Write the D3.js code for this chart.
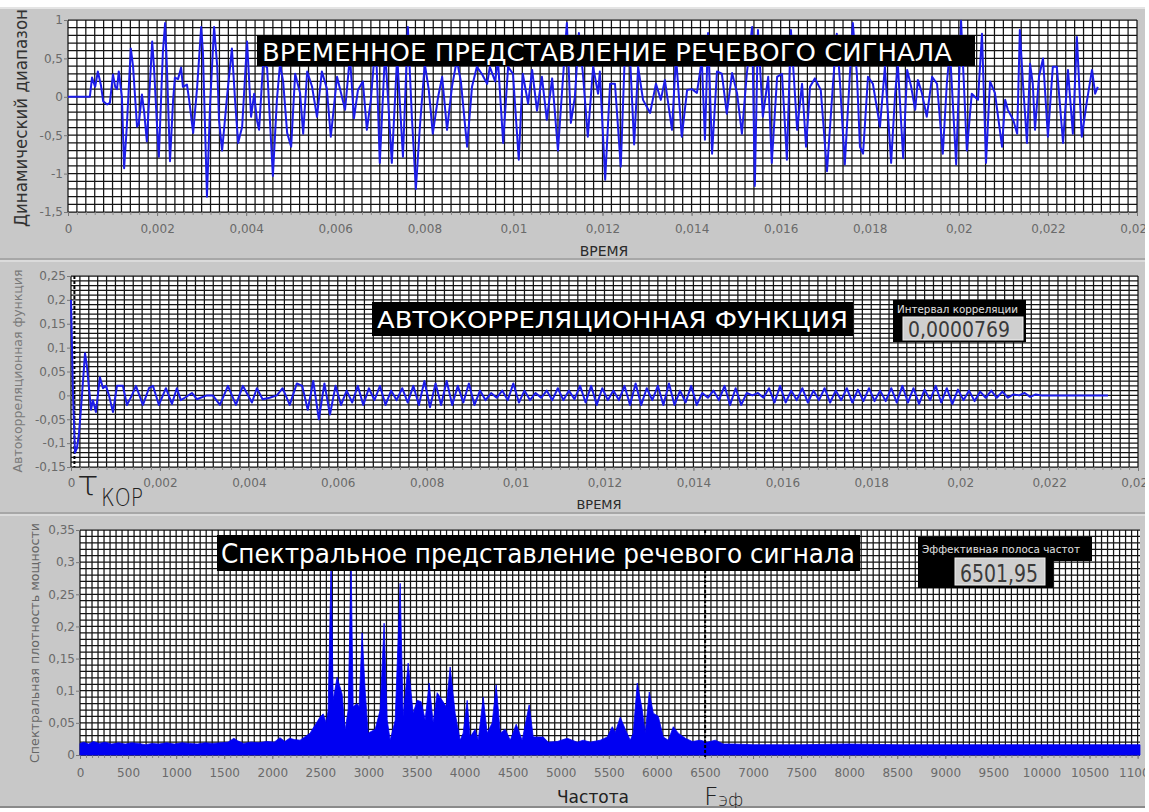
<!DOCTYPE html>
<html><head><meta charset="utf-8">
<script src="https://cdn.jsdelivr.net/npm/d3@7"></script>
<style>body{margin:0;background:#fff;} svg{display:block}</style>
</head><body><svg id="c" width="1149" height="812"></svg>
<script>
// ---------- DATA ----------
// Time signal (time in ms, amplitude)
const sigT = [0,0.49,0.54,0.61,0.67,0.74,0.79,0.88,0.94,1.01,
1.06,1.10,1.14,1.21,1.26,1.32,1.41,1.46,1.55,1.59,
1.66,1.71,1.77,1.89,1.93,2.00,2.04,2.13,2.18,2.22,
2.29,2.36,2.40,2.47,2.54,2.58,2.67,2.72,2.81,2.90,
2.99,3.03,3.12,3.19,3.28,3.35,3.39,3.46,3.57,3.68,
3.75,3.82,3.91,4.02,4.11,4.18,4.24,4.29,4.38,4.47,
4.60,4.69,4.76,4.83,4.92,5.01,5.10,5.21,5.28,5.37,
5.48,5.59,5.70,5.81,5.90,6.04,6.15,6.22,6.33,6.42,
6.51,6.62,6.71,6.80,6.91,7.00,7.12,7.27,7.39,7.52,
7.63,7.72,7.81,7.90,8.01,8.10,8.19,8.31,8.40,8.51,
8.62,8.73,8.82,8.96,9.07,9.18,9.29,9.41,9.47,9.59,
9.65,9.77,9.88,9.99,10.12,10.21,10.33,10.42,10.53,10.64,
10.75,10.87,11.00,11.11,11.20,11.29,11.38,11.47,11.56,11.67,
11.79,11.90,11.94,12.06,12.17,12.28,12.41,12.50,12.62,12.71,
12.80,12.91,13.07,13.20,13.31,13.40,13.56,13.65,13.78,13.90,
14.01,14.12,14.23,14.30,14.37,14.46,14.57,14.68,14.79,14.91,
15.02,15.13,15.24,15.36,15.42,15.49,15.60,15.72,15.80,15.92,
16.03,16.14,16.23,16.37,16.48,16.57,16.66,16.77,16.90,17.04,
17.17,17.26,17.33,17.44,17.56,17.62,17.71,17.78,17.85,17.96,
18.07,18.23,18.34,18.48,18.57,18.63,18.75,18.84,18.93,19.02,
19.08,19.17,19.28,19.40,19.51,19.64,19.73,19.80,19.94,20.05,
20.18,20.29,20.43,20.52,20.61,20.70,20.81,20.97,21.04,21.10,
21.22,21.31,21.37,21.44,21.53,21.60,21.66,21.71,21.80,21.89,
22.00,22.11,22.20,22.34,22.45,22.56,22.65,22.76,22.88,22.99,
23.06,23.12];
const sigV = [0,0,0.25,0.13,0.33,0.15,-0.06,-0.1,-0.08,0.29,
0.13,0.1,0.33,0,-0.93,-0.39,0.63,0.4,-0.39,-0.35,
0.03,-0.2,-0.58,0.72,0.39,-0.39,-0.78,0.58,0.96,0.4,
-0.84,-0.04,0.25,0.23,0.38,0.13,0.16,-0.04,-0.47,0.13,
0.91,0.57,-1.3,-0.1,0.91,0.4,-0.3,-0.7,0,0.63,
-0.04,-0.6,-0.39,0.72,-0.26,0.04,-0.3,-0.43,0.43,0.38,
-1.03,-0.04,0.43,0.2,-0.47,-0.65,0.3,0.05,-0.48,0.33,
0.13,-0.26,0.33,0.11,-0.52,0.26,0,-0.17,0.53,-0.28,
0.09,0.2,-0.43,-0.04,0.76,-0.86,0.61,-0.86,0.53,-0.78,
0.91,-0.26,-1.2,-0.39,0.43,0.09,-0.48,0,0.26,-0.43,
0.13,0.48,0.2,-0.65,0.13,0.39,0.3,0.17,0.39,0.2,
0.5,-0.6,0.39,0.3,-0.82,0.3,-0.09,0.35,-0.18,0.26,
-0.3,0.24,-0.7,0.22,0.96,-0.34,0,0.83,0.3,-0.52,
0.39,0.04,0.33,-1.08,0.17,0.17,-0.91,0.53,0.5,-0.62,
0.39,-0.04,-0.21,0.17,-0.04,0.22,-0.43,0.53,-0.52,0.09,
0.1,0.05,0.48,-0.56,0.83,-0.74,0.33,0.3,-0.22,0.31,
0.05,-0.48,0.3,0.91,-1.16,0.87,-0.26,0.26,-0.86,0.26,
0.3,-0.82,0.87,-0.43,0.17,-0.65,0.13,0.24,0.09,-0.97,
0.13,0.82,0.2,-0.88,0.35,0.96,0.31,-0.65,-0.74,0.26,
0.17,-0.39,0.39,-0.86,0.04,0.43,-0.8,0.35,0.13,-0.17,
0.22,0.05,-0.26,0.26,0.17,-0.74,0.17,0.61,-0.88,0.99,
-0.7,0.04,-0.04,0.82,-0.86,0.2,0.05,-0.65,-0.04,-0.17,
-0.3,-0.48,0.87,0.17,-0.6,0.43,0.17,-0.43,0.26,0.5,
-0.52,0.39,0.39,-0.6,0.35,-0.48,0.78,-0.52,-0.04,0.35,
0.04,0.13];

// Autocorrelation: head (explicit times, ms) + tail (uniform sampling)
const acfHeadT = [0,0.045,0.09,0.135,0.18,0.247,0.315,0.36,0.45,0.494,0.56,0.65,0.72,0.786,0.854,0.944,1.034,1.168,1.258,1.37,1.46,1.618,1.753,1.843,1.977,2.135,2.27,2.38,2.47,2.56,2.72,2.83,3.056,3.19,3.35,3.53,3.71,3.865,4.07,4.18,4.31,4.47,4.63,4.76,4.92,5.08];
const acfHeadV = [0.2,0.0,-0.12,-0.11,-0.08,0,0.088,0.06,-0.03,-0.01,-0.035,0.038,0.015,0.02,0,-0.035,0.02,0.02,-0.02,0,0.02,-0.02,0.015,0.02,-0.02,0.015,-0.018,0.015,-0.01,-0.005,0.005,-0.008,0,0,-0.02,0.02,-0.02,0.02,-0.015,0.015,-0.008,-0.005,0,0.015,-0.02,0.025];
const acfTailStart = 5.2, acfTailStep = 0.125;
const acfTailV = [
0.02,-0.03,0.03,-0.05,0.025,-0.04,0.02,-0.02,
0.01,-0.015,0.02,-0.02,0.015,-0.01,0.02,-0.02,
0.01,-0.01,0.015,-0.015,0.02,-0.02,0.03,-0.025,
0.025,-0.02,0.03,-0.02,0.02,-0.015,0.025,-0.02,
0.01,-0.01,0.005,-0.005,0.01,-0.01,0.025,-0.015,
0.01,-0.01,0.005,-0.005,0.01,-0.01,0.015,-0.01,
0.01,-0.008,0.02,-0.015,0.02,-0.02,0.015,-0.01,
0.01,-0.01,0.02,-0.02,0.025,-0.02,0.015,-0.01,
0.02,-0.02,0.025,-0.02,0.01,-0.015,0.02,-0.02,
0.005,-0.005,0.01,-0.01,0.02,-0.02,0.015,-0.02,
0.005,0,0.005,-0.005,0.015,-0.015,0.02,-0.015,
0.01,-0.01,0.015,-0.015,0.01,-0.01,0.015,-0.015,
0.01,-0.01,0.015,-0.015,0.012,-0.012,0.015,-0.012,
0.01,-0.012,0.015,-0.015,0.02,-0.015,0.015,-0.018,
0.012,-0.01,0.02,-0.015,0.015,-0.018,0.012,-0.01,
0.01,-0.012,0.008,-0.005,0.01,-0.005,0.008,-0.005,
0.002,0,0.005,-0.003,0.002,0,
0,0,0,0,0,0,0,0,0,0,0,0];
const tauCorr = 0.0769; // ms  (0,0000769 s)

// Spectrum (Hz, power density)
const specF = [0,40,90,140,200,260,330,400,470,540,610,680,750,820,900,980,1060,1140,1220,1300,1380,1460,1540,1600,1640,1700,1780,1860,1940,2020,2080,2130,2180,2230,
2289,2393,2497,2529,2560,2581,2612,2633,2674,2726,2758,2789,2820,2841,2882,2903,2934,2966,2997,3070,3122,3163,3195,3226,3278,3330,3361,3413,3465,3507,3548,3590,3632,3673,3715,3767,3809,3850,3902,3954,3985,4027,4058,4110,4142,4194,4235,4287,4329,4371,4423,4475,4537,4599,4672,4714,4818,4870,4964,5068,5172,5234,5307,5411,5484,5536,5567,5619,5671,5723,5754,5796,5848,5879,5921,5963,6015,6067,6119,6171,6223,6296,6369,6452,6525,6608,6691,
6800,7000,7500,8000,8500,9000,9500,10000,10500,11025];
const specV = [0.018,0.02,0.017,0.021,0.018,0.02,0.017,0.019,0.017,0.019,0.018,0.016,0.018,0.017,0.019,0.017,0.019,0.018,0.017,0.019,0.018,0.019,0.02,0.026,0.022,0.018,0.02,0.019,0.021,0.02,0.027,0.021,0.026,0.024,
0.023,0.034,0.059,0.064,0.05,0.07,0.303,0.085,0.121,0.095,0.039,0.07,0.298,0.075,0.08,0.075,0.19,0.1,0.034,0.04,0.07,0.205,0.055,0.023,0.054,0.267,0.06,0.143,0.065,0.085,0.083,0.055,0.112,0.05,0.097,0.085,0.075,0.137,0.065,0.023,0.034,0.085,0.028,0.04,0.023,0.09,0.034,0.05,0.109,0.034,0.04,0.023,0.048,0.023,0.078,0.028,0.028,0.02,0.021,0.026,0.02,0.023,0.02,0.023,0.028,0.044,0.035,0.059,0.04,0.023,0.034,0.112,0.07,0.034,0.098,0.065,0.06,0.028,0.023,0.044,0.034,0.026,0.021,0.023,0.02,0.023,0.017,
0.017,0.016,0.016,0.017,0.016,0.016,0.016,0.016,0.016,0.016];
const fEff = 6501.95;

// Tick labels
const timeTicks = [0,2,4,6,8,10,12,14,16,18,20,22,24];
const timeTickLabels = ["0","0,002","0,004","0,006","0,008","0,01","0,012","0,014","0,016","0,018","0,02","0,022","0,024"];
const ampTicks = [1,0.5,0,-0.5,-1,-1.5];
const ampTickLabels = ["1","0,5","0","-0,5","-1","-1,5"];
const acfTicks = [0.25,0.2,0.15,0.1,0.05,0,-0.05,-0.1,-0.15];
const acfTickLabels = ["0,25","0,2","0,15","0,1","0,05","0","-0,05","-0,1","-0,15"];
const freqTicks = [0,500,1000,1500,2000,2500,3000,3500,4000,4500,5000,5500,6000,6500,7000,7500,8000,8500,9000,9500,10000,10500,11000];
const psdTicks = [0.35,0.3,0.25,0.2,0.15,0.1,0.05,0];
const psdTickLabels = ["0,35","0,3","0,25","0,2","0,15","0,1","0,05","0"];

// ---------- DRAW ----------
const FONT = "'DejaVu Sans', Verdana, sans-serif";
const svg = d3.select('#c');
svg.append('defs').append('clipPath').attr('id','frame')
  .append('rect').attr('x',0).attr('y',7).attr('width',1145).attr('height',801);
svg.append('rect').attr('width',1149).attr('height',812).attr('fill','#fff');
const root = svg.append('g').attr('clip-path','url(#frame)');
root.append('rect').attr('x',0).attr('y',7).attr('width',1145).attr('height',801).attr('fill','#c8c8c8');
root.append('line').attr('x1',0).attr('x2',1145).attr('y1',8).attr('y2',8).attr('stroke','#e4e4e4').attr('stroke-width',2);
[259,513].forEach(yy=>{
  root.append('line').attr('x1',0).attr('x2',1145).attr('y1',yy).attr('y2',yy).attr('stroke','#9c9c9c').attr('stroke-width',1.5);
  root.append('line').attr('x1',0).attr('x2',1145).attr('y1',yy+2).attr('y2',yy+2).attr('stroke','#e2e2e2').attr('stroke-width',1.5);
});
root.append('line').attr('x1',0).attr('x2',1145).attr('y1',807).attr('y2',807).attr('stroke','#8a8a8a').attr('stroke-width',2);

function stepRange(d0,d1,step){const n=Math.round((d1-d0)/step);return d3.range(n+1).map(i=>d0+i*step).filter(v=>v<=d1+1e-9);}

function panel(p){
  const x = d3.scaleLinear().domain(p.xDomain).range([p.left,p.right]);
  const y = d3.scaleLinear().domain(p.yDomain).range([p.bottom,p.top]);
  const g = root.append('g');
  g.append('rect').attr('x',p.left).attr('y',p.top).attr('width',p.right-p.left).attr('height',p.bottom-p.top).attr('fill','#fff');
  const xs = stepRange(p.xDomain[0],p.xDomain[1],p.xMinor);
  const ys = stepRange(p.yDomain[0],p.yDomain[1],p.yMinor);
  g.append('g').selectAll('line').data(ys).join('line')
    .attr('x1',p.left).attr('x2',p.right).attr('y1',d=>y(d)).attr('y2',d=>y(d))
    .attr('stroke','#141414').attr('stroke-width',1.25);
  g.append('g').selectAll('line').data(xs).join('line')
    .attr('x1',d=>x(d)).attr('x2',d=>x(d)).attr('y1',p.top).attr('y2',p.bottom)
    .attr('stroke','#141414').attr('stroke-width',1.25);
  const mAx = g.append('g').attr('transform',`translate(0,${p.bottom})`)
    .call(d3.axisBottom(x).tickValues(xs).tickSize(3).tickFormat(''));
  mAx.select('.domain').remove();
  mAx.selectAll('line').attr('stroke','#8a8a8a');
  const xa = g.append('g').attr('transform',`translate(0,${p.bottom})`)
    .call(d3.axisBottom(x).tickValues(p.xTicks).tickSize(4).tickPadding(p.xPad)
      .tickFormat((d,i)=>p.xLabels[i]));
  xa.select('.domain').remove();
  xa.selectAll('line').attr('stroke','#777');
  xa.selectAll('text').attr('fill','#6a6a6a').style('font-family',FONT).style('font-size','12px');
  const ya = g.append('g').attr('transform',`translate(${p.left},0)`)
    .call(d3.axisLeft(y).tickValues(p.yTicks).tickSize(4).tickPadding(1)
      .tickFormat((d,i)=>p.yLabels[i]));
  ya.select('.domain').remove();
  ya.selectAll('line').attr('stroke','#777');
  ya.selectAll('text').attr('fill','#6a6a6a').style('font-family',FONT).style('font-size','12px');
  return {x,y,g};
}

// ---- Top panel ----
const P1 = panel({left:68,right:1137,top:20,bottom:212,xDomain:[0,24],yDomain:[-1.5,1],
  xMinor:0.2,yMinor:0.1,xTicks:timeTicks,xLabels:timeTickLabels,yTicks:ampTicks,yLabels:ampTickLabels,xPad:8});
const sig = d3.zip(sigT,sigV);
P1.g.append('path').datum(sig)
  .attr('d',d3.line().x(d=>P1.x(d[0])).y(d=>P1.y(d[1])))
  .attr('fill','none').attr('stroke','#1c1ce8').attr('stroke-width',2).attr('stroke-linejoin','round');
P1.g.append('rect').attr('x',257).attr('y',35).attr('width',718).attr('height',31).attr('fill','#000');
P1.g.append('text').attr('x',262).attr('y',61).attr('fill','#fff').style('font-family',FONT).style('font-size','25px')
  .attr('textLength',690).attr('lengthAdjust','spacingAndGlyphs').text('ВРЕМЕННОЕ ПРЕДСТАВЛЕНИЕ РЕЧЕВОГО СИГНАЛА');
root.append('text').attr('x',604).attr('y',256).attr('text-anchor','middle').attr('fill','#2a2a2a')
  .style('font-family',FONT).style('font-size','14px').text('ВРЕМЯ');
root.append('text').attr('transform','translate(27,118) rotate(-90)').attr('text-anchor','middle').attr('fill','#333')
  .style('font-family',FONT).style('font-size','17px').attr('textLength',218).attr('lengthAdjust','spacingAndGlyphs')
  .text('Динамический диапазон');

// ---- Middle panel ----
const P2 = panel({left:71,right:1138,top:276,bottom:467,xDomain:[0,24],yDomain:[-0.15,0.25],
  xMinor:0.2,yMinor:0.01,xTicks:timeTicks,xLabels:timeTickLabels,yTicks:acfTicks,yLabels:acfTickLabels,xPad:7});
const acf = d3.zip(acfHeadT,acfHeadV).concat(acfTailV.map((v,i)=>[acfTailStart+i*acfTailStep,v]));
P2.g.append('line').attr('x1',P2.x(tauCorr)).attr('x2',P2.x(tauCorr)).attr('y1',276).attr('y2',467)
  .attr('stroke','#000').attr('stroke-width',2).attr('stroke-dasharray','3,2');
P2.g.append('path').datum(acf)
  .attr('d',d3.line().x(d=>P2.x(d[0])).y(d=>P2.y(d[1])))
  .attr('fill','none').attr('stroke','#1c1ce8').attr('stroke-width',2).attr('stroke-linejoin','round');
P2.g.append('rect').attr('x',372).attr('y',302).attr('width',481).attr('height',34).attr('fill','#000');
P2.g.append('text').attr('x',377).attr('y',328).attr('fill','#fff').style('font-family',FONT).style('font-size','23px')
  .attr('textLength',471).attr('lengthAdjust','spacingAndGlyphs').text('АВТОКОРРЕЛЯЦИОННАЯ ФУНКЦИЯ');
P2.g.append('rect').attr('x',893).attr('y',300).attr('width',133).attr('height',42).attr('fill','#000');
P2.g.append('text').attr('x',897).attr('y',313).attr('fill','#e0e0e0').style('font-family',FONT).style('font-size','10px')
  .attr('textLength',121).attr('lengthAdjust','spacingAndGlyphs').text('Интервал корреляции');
P2.g.append('rect').attr('x',903).attr('y',317).attr('width',120).attr('height',23).attr('fill','#cfcfcf').attr('stroke','#f0f0f0');
P2.g.append('text').attr('x',908).attr('y',337).attr('fill','#3a3a3a').style('font-family',FONT).style('font-size','22px')
  .attr('textLength',102).attr('lengthAdjust','spacingAndGlyphs').text('0,0000769');
root.append('text').attr('x',599).attr('y',509).attr('text-anchor','middle').attr('fill','#2a2a2a')
  .style('font-family',FONT).style('font-size','13px').text('ВРЕМЯ');
root.append('text').attr('transform','translate(22,371) rotate(-90)').attr('text-anchor','middle').attr('fill','#7a7a7a')
  .style('font-family',FONT).style('font-size','12px').attr('textLength',203).attr('lengthAdjust','spacingAndGlyphs')
  .text('Автокорреляционная функция');
root.append('text').attr('x',77).attr('y',496).attr('fill','#222').style('font-family',FONT).style('font-size','36px').style('font-weight','300').text('τ');
root.append('text').attr('x',101).attr('y',506).attr('fill','#222').style('font-family',FONT).style('font-size','24px').style('font-weight','300')
  .attr('textLength',42).attr('lengthAdjust','spacingAndGlyphs').text('КОР');

// ---- Bottom panel ----
const P3 = panel({left:80,right:1140,top:530,bottom:755,xDomain:[0,11025],yDomain:[0,0.35],
  xMinor:62.5,yMinor:0.01,xTicks:freqTicks,xLabels:freqTicks.map(String),yTicks:psdTicks,yLabels:psdTickLabels,xPad:9});
const spec = d3.zip(specF,specV);
P3.g.append('path').datum(spec)
  .attr('d',d3.area().x(d=>P3.x(d[0])).y0(P3.y(0)).y1(d=>P3.y(d[1])))
  .attr('fill','#0000f2').attr('stroke','#0000f2').attr('stroke-width',0.8);
P3.g.append('line').attr('x1',P3.x(fEff)).attr('x2',P3.x(fEff)).attr('y1',530).attr('y2',757)
  .attr('stroke','#000').attr('stroke-width',2).attr('stroke-dasharray','3,2');
P3.g.append('rect').attr('x',217).attr('y',535).attr('width',643).attr('height',36).attr('fill','#000');
P3.g.append('text').attr('x',221).attr('y',563).attr('fill','#fff').style('font-family',FONT).style('font-size','27px')
  .attr('textLength',634).attr('lengthAdjust','spacingAndGlyphs').text('Спектральное представление речевого сигнала');
P3.g.append('rect').attr('x',918).attr('y',537).attr('width',174).attr('height',24).attr('fill','#000');
P3.g.append('rect').attr('x',918).attr('y',537).attr('width',135).attr('height',51).attr('fill','#000');
P3.g.append('text').attr('x',922).attr('y',553).attr('fill','#e0e0e0').style('font-family',FONT).style('font-size','11px')
  .attr('textLength',158).attr('lengthAdjust','spacingAndGlyphs').text('Эффективная полоса частот');
P3.g.append('rect').attr('x',955).attr('y',558).attr('width',90).attr('height',27).attr('fill','#cfcfcf').attr('stroke','#f0f0f0');
P3.g.append('text').attr('x',960).attr('y',582).attr('fill','#3a3a3a').style('font-family',FONT).style('font-size','24px')
  .attr('textLength',78).attr('lengthAdjust','spacingAndGlyphs').text('6501,95');
root.append('text').attr('x',593).attr('y',803).attr('text-anchor','middle').attr('fill','#222')
  .style('font-family',FONT).style('font-size','17px').text('Частота');
root.append('text').attr('x',704).attr('y',805).attr('fill','#222').style('font-family',FONT).style('font-size','25px').style('font-weight','300').text('F');
root.append('text').attr('x',718).attr('y',806).attr('fill','#222').style('font-family',FONT).style('font-size','18px').style('font-weight','300').text('эф');
root.append('text').attr('transform','translate(39,643) rotate(-90)').attr('text-anchor','middle').attr('fill','#666')
  .style('font-family',FONT).style('font-size','13px').attr('textLength',240).attr('lengthAdjust','spacingAndGlyphs')
  .text('Спектральная плотность мощности');
</script></body></html>
